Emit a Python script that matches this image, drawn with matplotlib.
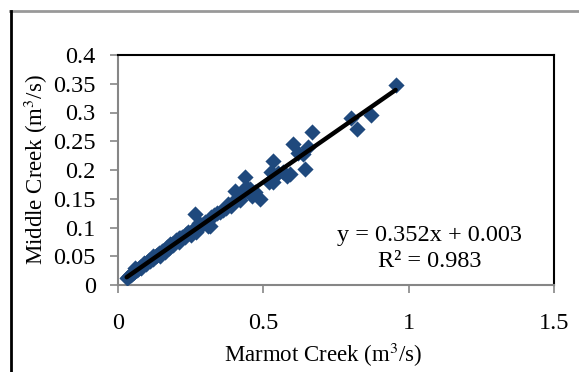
import matplotlib
matplotlib.use('Agg')
import matplotlib.pyplot as plt
from matplotlib.lines import Line2D

# caudais diários (m3/s)
marmot = [0.03, 0.035, 0.04, 0.045, 0.05, 0.055, 0.06, 0.065, 0.07, 0.075,
          0.08, 0.085, 0.09, 0.095, 0.10, 0.105, 0.11, 0.115, 0.12, 0.125,
          0.13, 0.135, 0.14, 0.145, 0.15, 0.155, 0.16, 0.165, 0.17, 0.175,
          0.18, 0.185, 0.19, 0.195, 0.20, 0.21, 0.215, 0.22, 0.23, 0.235,
          0.24, 0.25, 0.255, 0.26, 0.266, 0.27, 0.28, 0.29, 0.30, 0.31,
          0.317, 0.32, 0.33, 0.34, 0.35, 0.36, 0.37, 0.38, 0.39, 0.40,
          0.403, 0.41, 0.42, 0.43, 0.438, 0.44, 0.455, 0.46, 0.47, 0.49,
          0.52, 0.528, 0.534, 0.534, 0.55, 0.569, 0.583, 0.593, 0.603, 0.62,
          0.638, 0.645, 0.652, 0.669, 0.80, 0.821, 0.872, 0.955,
          0.06, 0.09, 0.12, 0.15, 0.18, 0.21, 0.24, 0.28]
middle = [0.012, 0.014, 0.017, 0.018, 0.021, 0.022, 0.025, 0.026, 0.028, 0.031,
          0.030, 0.034, 0.036, 0.037, 0.040, 0.043, 0.041, 0.046, 0.045, 0.049,
          0.050, 0.052, 0.055, 0.051, 0.058, 0.060, 0.057, 0.063, 0.066, 0.064,
          0.069, 0.072, 0.070, 0.075, 0.078, 0.074, 0.081, 0.084, 0.083, 0.088,
          0.091, 0.087, 0.094, 0.097, 0.124, 0.093, 0.101, 0.105, 0.110, 0.103,
          0.103, 0.118, 0.121, 0.125, 0.127, 0.130, 0.134, 0.141, 0.138, 0.146,
          0.164, 0.150, 0.148, 0.160, 0.188, 0.170, 0.167, 0.155, 0.162, 0.150,
          0.180, 0.197, 0.216, 0.179, 0.195, 0.197, 0.190, 0.193, 0.245, 0.230,
          0.228, 0.202, 0.240, 0.266, 0.291, 0.271, 0.296, 0.348,
          0.029, 0.039, 0.050, 0.060, 0.071, 0.082, 0.093, 0.107]

slope, intercept, r2 = 0.352, 0.003, 0.983
x_fit = [0.03, 0.955]

plt.rcParams['font.family'] = 'Liberation Serif'
plt.rcParams['mathtext.fontset'] = 'stix'

fig = plt.figure(figsize=(5.79, 3.72), dpi=100)
ax = fig.add_axes([118/579, 87/372, 436/579, 230/372])

ax.scatter(marmot, middle, marker='D', s=68, color='#1F497D', zorder=3, linewidths=0)
ax.plot(x_fit, [slope*v + intercept for v in x_fit], color='black', lw=3.2,
        solid_capstyle='round', zorder=4)

ax.set_xlim(0, 1.5)
ax.set_ylim(0, 0.4)
ax.set_xticks([0, 0.5, 1, 1.5])
ax.set_xticklabels(['0', '0.5', '1', '1.5'])
ax.set_yticks([0, 0.05, 0.1, 0.15, 0.2, 0.25, 0.3, 0.35, 0.4])
ax.set_yticklabels(['0', '0.05', '0.1', '0.15', '0.2', '0.25', '0.3', '0.35', '0.4'])

gray = '#868686'
ax.spines['left'].set_color(gray)
ax.spines['bottom'].set_color(gray)
for s in ax.spines.values():
    s.set_linewidth(1.5)
ax.tick_params(axis='both', direction='out', color=gray, width=1.2, length=6,
               labelsize=17.5)
ax.tick_params(axis='y', pad=10)
ax.tick_params(axis='x', pad=14)

ax.set_xlabel('Marmot Creek (m$^3$/s)', fontsize=16.5)
ax.set_ylabel('Middle Creek (m$^3$/s)', fontsize=16.5)
ax.xaxis.set_label_coords(0.47, -0.245)
ax.yaxis.set_label_coords(-0.155, 0.5)

ax.text(0.715, 0.16, f'y = {slope}x + {intercept}\nR² = {r2}',
        transform=ax.transAxes, ha='center', va='center', fontsize=17.5,
        linespacing=1.3)

# bordas da célula
fig.add_artist(Line2D([10/579, 1], [1 - 11/372, 1 - 11/372], color='#999999', lw=2))
fig.add_artist(Line2D([11/579, 11/579], [0, 1 - 11/372], color='black', lw=2))

fig.savefig('out.png', dpi=100)
